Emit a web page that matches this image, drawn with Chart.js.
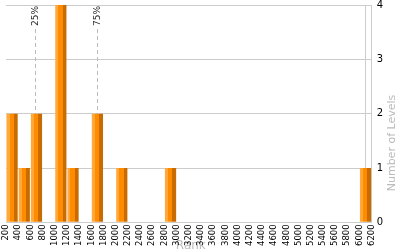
<!DOCTYPE html>
<html>
<head>
<meta charset="utf-8">
<script src="https://cdn.jsdelivr.net/npm/chart.js@4/dist/chart.umd.min.js"></script>
<style>
  html, body { margin: 0; padding: 0; background: #fff; }
  #wrap { width: 400px; height: 250px; position: relative; }
</style>
</head>
<body>
<div id="wrap"><canvas id="levelsChart"></canvas></div>
<script>
// Data
const binStart = [200, 400, 600, 800, 1000, 1200, 1400, 1600, 1800, 2000,
                  2200, 2400, 2600, 2800, 3000, 3200, 3400, 3600, 3800, 4000,
                  4200, 4400, 4600, 4800, 5000, 5200, 5400, 5600, 5800, 6000];
const levelCounts = [2, 1, 2, 0, 4, 1, 0, 2, 0, 1,
                     0, 0, 0, 1, 0, 0, 0, 0, 0, 0,
                     0, 0, 0, 0, 0, 0, 0, 0, 0, 1];
const binWidth = 200;
const rankMin = 200;
const rankMax = 6200;
const quartileRanks = [680, 1690];
const quartileLabels = ['25%', '75%'];

const colors = {
    light: '#ffa93a',
    mid: '#ff8c00',
    dark: '#c96c00',
    grid: '#cccccc',
    title: '#bbbbbb'
};

const points = binStart.map((s, i) => ({ x: s + binWidth / 2, y: levelCounts[i] }));

// horizontal 3-tone fill for each bar
function barFill(ctx) {
    const chart = ctx.chart;
    const xs = chart.scales.x;
    if (!chart.chartArea || !xs || ctx.raw === undefined) return colors.mid;
    const cx = xs.getPixelForValue(ctx.raw.x);
    const half = Math.abs(xs.getPixelForValue(binWidth) - xs.getPixelForValue(0)) * 0.92 / 2;
    const g = chart.ctx.createLinearGradient(cx - half, 0, cx + half, 0);
    g.addColorStop(0, colors.light);
    g.addColorStop(0.27, colors.light);
    g.addColorStop(0.27, colors.mid);
    g.addColorStop(0.66, colors.mid);
    g.addColorStop(0.66, colors.dark);
    g.addColorStop(1, colors.dark);
    return g;
}

// quartile markers + axis titles
const extras = {
    id: 'extras',
    beforeDraw(chart) {
        const { ctx, chartArea } = chart;
        ctx.save();
        ctx.fillStyle = colors.title;
        ctx.font = '12px "DejaVu Sans", Verdana, sans-serif';
        ctx.textAlign = 'center';
        ctx.textBaseline = 'top';
        ctx.fillText('Rank', (chartArea.left + chartArea.right) / 2 + 2, 240);

        ctx.font = '11px "DejaVu Sans", Verdana, sans-serif';
        ctx.translate(392, 143);
        ctx.rotate(-Math.PI / 2);
        ctx.textBaseline = 'middle';
        ctx.fillText('Number of Levels', 0, 0);
        ctx.restore();
    },
    beforeDatasetsDraw(chart) {
        const { ctx, chartArea, scales } = chart;
        ctx.save();
        quartileRanks.forEach((r, i) => {
            const x = Math.round(scales.x.getPixelForValue(r)) + 0.5;
            ctx.strokeStyle = '#bbbbbb';
            ctx.lineWidth = 1;
            ctx.setLineDash([4, 3]);
            ctx.beginPath();
            ctx.moveTo(x, chartArea.top + 24);
            ctx.lineTo(x, chartArea.bottom);
            ctx.stroke();

            ctx.save();
            ctx.translate(x, chartArea.top + 1);
            ctx.rotate(-Math.PI / 2);
            ctx.fillStyle = '#222';
            ctx.font = '9px "DejaVu Sans", Verdana, sans-serif';
            ctx.textAlign = 'right';
            ctx.textBaseline = 'middle';
            ctx.fillText(quartileLabels[i], 0, 0);
            ctx.restore();
        });
        ctx.restore();
    }
};

new Chart(document.getElementById('levelsChart'), {
    type: 'bar',
    data: {
        datasets: [{
            data: points,
            backgroundColor: barFill,
            borderWidth: 0,
            barPercentage: 1,
            categoryPercentage: 0.92
        }]
    },
    options: {
        responsive: true,
        maintainAspectRatio: false,
        animation: false,
        layout: { padding: { left: 6, top: 5, right: 12, bottom: 2 } },
        plugins: { legend: { display: false }, tooltip: { enabled: false } },
        scales: {
            x: {
                type: 'linear',
                min: rankMin,
                max: rankMax,
                offset: false,
                grid: {
                    drawTicks: false,
                    color: c => (c.tick && (c.tick.value === rankMin || c.tick.value === rankMax)) ? colors.grid : 'rgba(0,0,0,0)'
                },
                border: { display: true, color: colors.grid },
                ticks: {
                    stepSize: 200,
                    autoSkip: false,
                    maxRotation: 90,
                    minRotation: 90,
                    padding: 2,
                    color: '#000',
                    callback: v => String(v),
                    font: { family: '"DejaVu Sans", Verdana, sans-serif', size: 8.5 }
                }
            },
            y: {
                position: 'right',
                min: 0,
                max: 4,
                afterFit: s => { s.paddingTop = 0; s.paddingBottom = 0; },
                grid: { color: colors.grid, drawTicks: false },
                border: { display: true, color: colors.grid },
                ticks: {
                    stepSize: 1,
                    padding: 5,
                    color: '#000',
                    font: { family: '"DejaVu Sans", Verdana, sans-serif', size: 10 }
                }
            }
        }
    },
    plugins: [extras]
});
</script>
</body>
</html>
